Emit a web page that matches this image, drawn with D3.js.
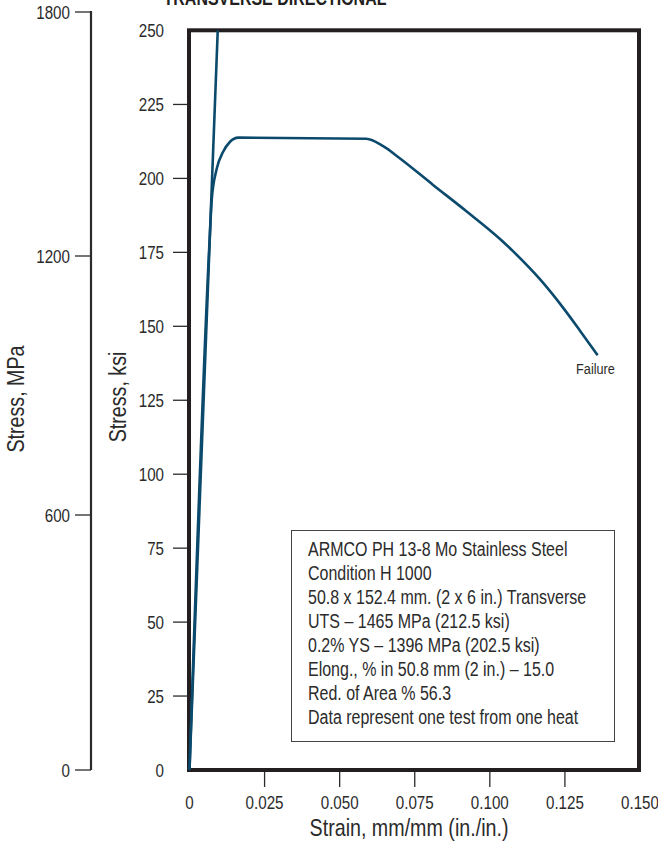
<!DOCTYPE html>
<html><head><meta charset="utf-8">
<script src="https://cdn.jsdelivr.net/npm/d3@7"></script>
<style>body{margin:0;background:#fff}</style>
</head><body><svg id="c" width="658" height="842"></svg>
<script>
const titleText = "TRANSVERSE DIRECTIONAL";
const strainTicks = [0, 0.025, 0.05, 0.075, 0.1, 0.125, 0.15];
const strainTickLabels = ["0", "0.025", "0.050", "0.075", "0.100", "0.125", "0.150"];
const ksiTicks = [0, 25, 50, 75, 100, 125, 150, 175, 200, 225, 250];
const mpaTicks = [0, 600, 1200, 1800];
const elasticStrain = [0, 0.0094];
const elasticStress = [0, 250];
const curveStrain = [0, 0.0067, 0.0074, 0.0090, 0.0112, 0.0135, 0.0162, 0.0589, 0.0645, 0.0700, 0.0811, 0.0922, 0.1033, 0.1077, 0.1166, 0.1243, 0.1299, 0.1359];
const curveStress = [0, 179.3, 192.8, 203.0, 209.0, 212.4, 213.8, 213.4, 210.9, 206.8, 197.8, 188.9, 179.6, 175.4, 166.0, 156.4, 148.7, 140.2];
const noteLines = [
  "ARMCO PH 13-8 Mo Stainless Steel",
  "Condition H 1000",
  "50.8 x 152.4 mm. (2 x 6 in.) Transverse",
  "UTS \u2013 1465 MPa (212.5 ksi)",
  "0.2% YS \u2013 1396 MPa (202.5 ksi)",
  "Elong., % in 50.8 mm (2 in.) \u2013 15.0",
  "Red. of Area % 56.3",
  "Data represent one test from one heat"
];
const failureLabel = "Failure";

const FONT = "'Liberation Sans',Arial,sans-serif";
const TXT = "#2b2b2b";
const SX = 0.82; // condensed look
const svg = d3.select("#c").style("font-family", FONT);

function txt(px, py, str, opts) {
  opts = opts || {};
  const rot = opts.rotate ? ` rotate(${opts.rotate})` : "";
  const g = svg.append("g").attr("transform", `translate(${px},${py})${rot} scale(${SX},1)`);
  const t = g.append("text").attr("x", 0).attr("y", 0)
    .attr("font-size", opts.size || 18.5)
    .attr("fill", opts.fill || TXT)
    .attr("text-anchor", opts.anchor || "start")
    .text(str);
  if (opts.dy) t.attr("dy", opts.dy);
  if (opts.weight) t.attr("font-weight", opts.weight);
  return t;
}

const x = d3.scaleLinear().domain([0, 0.15]).range([189.5, 640]);
const y = d3.scaleLinear().domain([0, 250]).range([770, 30.5]);
const yM = d3.scaleLinear().domain([0, 600, 1200, 1800]).range([770, 515, 256, 12]);

// title (cut off at top, as in the reference)
txt(275, 4.5, titleText, {anchor: "middle", size: 19.5, weight: "bold", fill: "#231f20"});

// MPa axis
svg.append("line").attr("x1", 91).attr("x2", 91).attr("y1", yM(1800) - 1).attr("y2", yM(0))
  .attr("stroke", "#2b2b2b").attr("stroke-width", 2.2);
mpaTicks.forEach(v => {
  svg.append("line").attr("x1", 75).attr("x2", 91).attr("y1", yM(v)).attr("y2", yM(v))
    .attr("stroke", "#2b2b2b").attr("stroke-width", 1.3);
  txt(70, yM(v), String(v), {anchor: "end", dy: "0.36em"});
});
txt(24, 399, "Stress, MPa", {rotate: -90, anchor: "middle", size: 24});

// ksi axis
ksiTicks.forEach(v => {
  if (v !== 0 && v !== 250) {
    svg.append("line").attr("x1", 173).attr("x2", 188).attr("y1", y(v)).attr("y2", y(v))
      .attr("stroke", "#2b2b2b").attr("stroke-width", 1.3);
  }
  txt(164, y(v), String(v), {anchor: "end", dy: "0.36em"});
});
txt(126, 397, "Stress, ksi", {rotate: -90, anchor: "middle", size: 24});

// strain axis
strainTicks.forEach((v, i) => {
  if (i !== 0 && i !== strainTicks.length - 1) {
    svg.append("line").attr("x1", x(v)).attr("x2", x(v)).attr("y1", 772).attr("y2", 787)
      .attr("stroke", "#2b2b2b").attr("stroke-width", 1.3);
  }
  txt(x(v), 802, strainTickLabels[i], {anchor: "middle", dy: "0.36em"});
});
txt(409, 836, "Strain, mm/mm (in./in.)", {anchor: "middle", size: 24});

// frame
svg.append("rect").attr("x", 189).attr("y", 30.3).attr("width", 450).attr("height", 739.7)
  .attr("fill", "none").attr("stroke", "#231f20").attr("stroke-width", 4);

// note box
svg.append("rect").attr("x", 291.5).attr("y", 530.5).attr("width", 323).attr("height", 211)
  .attr("fill", "#fff").attr("stroke", "#444").attr("stroke-width", 1);
noteLines.forEach((t, i) => {
  txt(308, 556 + i * 24, t, {size: 19.5});
});

// curves
const line = d3.line().x(d => x(d[0])).y(d => y(d[1]));
const elastic = elasticStrain.map((s, i) => [s, elasticStress[i]]);
svg.append("path").attr("d", line(elastic)).attr("fill", "none")
  .attr("stroke", "#0b4a6c").attr("stroke-width", 2.6);
const curve = curveStrain.map((s, i) => [s, curveStress[i]]);
svg.append("path").attr("d", d3.line().x(d => x(d[0])).y(d => y(d[1])).curve(d3.curveMonotoneX)(curve))
  .attr("fill", "none").attr("stroke", "#0b4a6c").attr("stroke-width", 2.6).attr("stroke-linejoin", "round");

txt(595.5, 368, failureLabel, {anchor: "middle", size: 15.5, dy: "0.36em"});
</script></body></html>
